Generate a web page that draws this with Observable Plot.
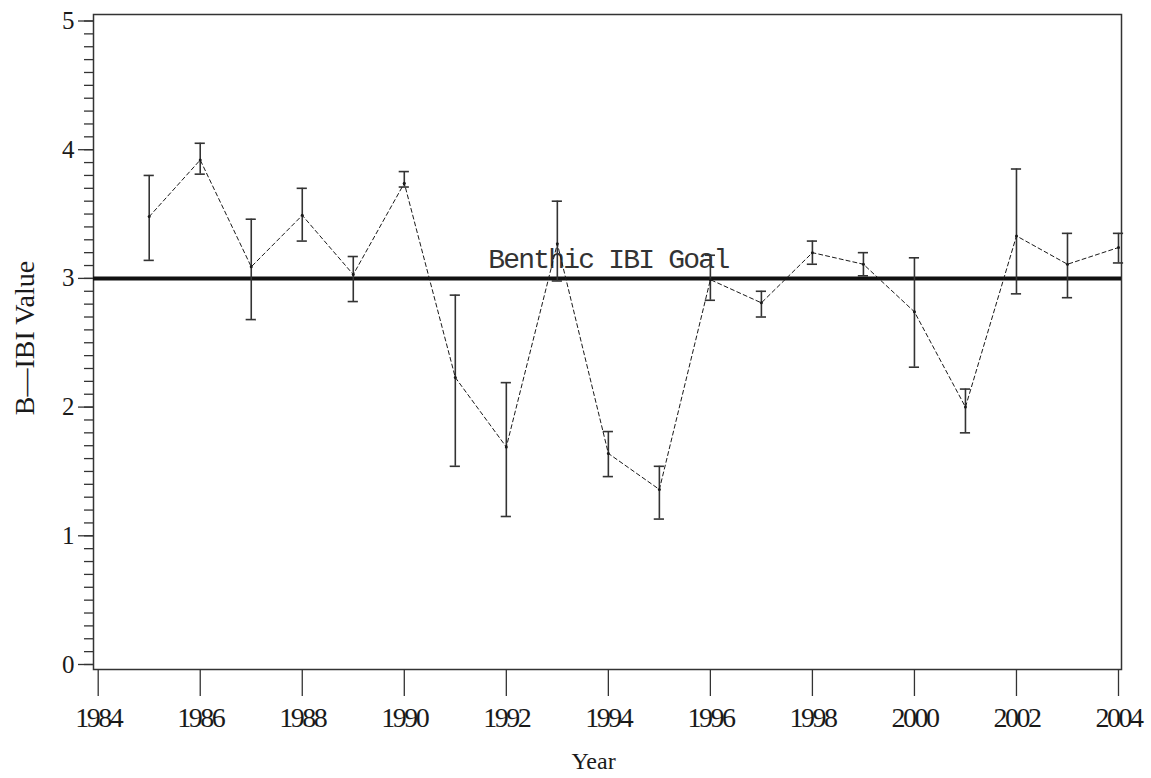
<!DOCTYPE html>
<html>
<head>
<meta charset="utf-8">
<script src="https://cdn.jsdelivr.net/npm/d3@7"></script>
<script src="https://cdn.jsdelivr.net/npm/@observablehq/plot@0.6"></script>
<style>
  html, body { margin: 0; padding: 0; background: #fff; }
</style>
</head>
<body>
<div id="chart"></div>
<script>
// ---- data ----
const years = [1985, 1986, 1987, 1988, 1989, 1990, 1991, 1992, 1993, 1994,
               1995, 1996, 1997, 1998, 1999, 2000, 2001, 2002, 2003, 2004];
const meanValues = [3.48, 3.92, 3.09, 3.49, 3.03, 3.74, 2.23, 1.69, 3.27, 1.64,
                    1.36, 2.99, 2.81, 3.20, 3.11, 2.74, 2.00, 3.33, 3.11, 3.24];
const lowValues  = [3.14, 3.81, 2.68, 3.29, 2.82, 3.71, 1.54, 1.15, 2.98, 1.46,
                    1.13, 2.83, 2.70, 3.11, 3.02, 2.31, 1.80, 2.88, 2.85, 3.12];
const highValues = [3.80, 4.05, 3.46, 3.70, 3.17, 3.83, 2.87, 2.19, 3.60, 1.81,
                    1.54, 3.18, 2.90, 3.29, 3.20, 3.16, 2.14, 3.85, 3.35, 3.35];
const goalValue = 3;
const goalLabel = "Benthic IBI Goal";
const goalLabelYear = 1994;
const xTicks = [1984, 1986, 1988, 1990, 1992, 1994, 1996, 1998, 2000, 2002, 2004];
const yTicks = [0, 1, 2, 3, 4, 5];
const yMinorTicks = d3.range(0, 51, 1).map(d => d / 10);
const xTitle = "Year";
const yTitle = "B\u2014IBI Value";
const capHalfWidth = 0.1; // years

const data = years.map((year, i) => ({year, mean: meanValues[i], lo: lowValues[i], hi: highValues[i]}));

const ink = "#1a1a1a";
const axisInk = "#333";

const chart = Plot.plot({
  width: 1151,
  height: 778,
  marginTop: 14,
  marginBottom: 109,
  marginLeft: 93,
  marginRight: 30,
  x: {domain: [1984, 2004], insetLeft: 4.7, insetRight: 3, label: null},
  y: {domain: [0, 5], insetTop: 6.5, insetBottom: 5, label: null},
  style: {fontFamily: "'Liberation Serif', serif", color: ink, background: "#fff"},
  marks: [
    Plot.frame({stroke: axisInk, strokeWidth: 1.5}),
    // minor y ticks
    Plot.axisY(yMinorTicks, {tickSize: 9, tickFormat: () => "", stroke: axisInk, strokeWidth: 1.3, label: null}),
    // major y ticks
    Plot.axisY(yTicks, {tickSize: 15, tickPadding: 4, tickFormat: "d", fontSize: 25, stroke: axisInk, strokeWidth: 1.3, label: null}),
    Plot.axisX(xTicks, {tickSize: 27, tickPadding: 11, tickFormat: "d", fontSize: 28, stroke: axisInk, strokeWidth: 1.3, label: null}),
    // goal line
    Plot.ruleY([goalValue], {stroke: "#111", strokeWidth: 4}),
    Plot.text([goalLabel], {x: goalLabelYear, y: goalValue, text: d => d, dy: -10, lineAnchor: "bottom",
      fontFamily: "'Liberation Mono', monospace", fontSize: 28, fill: "#333"}),
    // error bars
    Plot.ruleX(data, {x: "year", y1: "lo", y2: "hi", stroke: axisInk, strokeWidth: 1.6}),
    Plot.ruleY(data, {y: "hi", x1: d => d.year - capHalfWidth, x2: d => d.year + capHalfWidth, stroke: axisInk, strokeWidth: 1.6}),
    Plot.ruleY(data, {y: "lo", x1: d => d.year - capHalfWidth, x2: d => d.year + capHalfWidth, stroke: axisInk, strokeWidth: 1.6}),
    // dashed mean line
    Plot.line(data, {x: "year", y: "mean", stroke: ink, strokeWidth: 1, strokeDasharray: "4,3"}),
    Plot.dot(data, {x: "year", y: "mean", r: 1.5, fill: ink, stroke: "none"}),
    // axis titles
    Plot.text([yTitle], {frameAnchor: "left", dx: -68, dy: -4, rotate: -90, textAnchor: "middle", lineAnchor: "middle",
      text: d => d, fontSize: 28, fill: ink}),
    Plot.text([xTitle], {frameAnchor: "bottom", dx: -14, dy: 92, textAnchor: "middle", lineAnchor: "middle",
      text: d => d, fontSize: 24, fill: ink})
  ]
});

// typographic fine-tuning (letter spacing) on the rendered text
const svg = d3.select(chart);
svg.selectAll("text").each(function() {
  const t = this.textContent;
  if (t === goalLabel) d3.select(this).style("letter-spacing", "-1.8px");
  else if (xTicks.map(String).includes(t)) d3.select(this).style("letter-spacing", "-2.5px");
});

document.getElementById("chart").appendChild(chart);
</script>
</body>
</html>
